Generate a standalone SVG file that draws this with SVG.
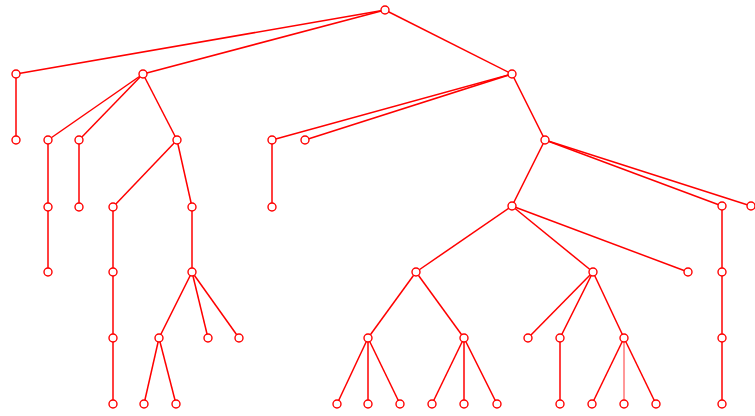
<svg xmlns="http://www.w3.org/2000/svg" width="755" height="416" viewBox="0 0 755 416">
<style>
.e line{stroke:#ff0000;stroke-width:1.5;fill:none}
.n circle{fill:#ffffff;stroke:#ff0000;stroke-width:1.4}
</style>
<rect width="755" height="416" fill="#ffffff"/>
<g id="connectors" class="e">
<line x1="385" y1="10" x2="16" y2="74"/>
<line x1="385" y1="10" x2="143" y2="74"/>
<line x1="385" y1="10" x2="512" y2="74"/>
<line x1="16" y1="74" x2="16" y2="140"/>
<line x1="143" y1="74" x2="48" y2="140"/>
<line x1="143" y1="74" x2="79" y2="140"/>
<line x1="143" y1="74" x2="177" y2="140"/>
<line x1="512" y1="74" x2="272" y2="140"/>
<line x1="512" y1="74" x2="305" y2="140"/>
<line x1="512" y1="74" x2="545" y2="140"/>
<line x1="48" y1="140" x2="48" y2="207"/>
<line x1="79" y1="140" x2="79" y2="207"/>
<line x1="177" y1="140" x2="113" y2="207"/>
<line x1="177" y1="140" x2="192" y2="207"/>
<line x1="272" y1="140" x2="272" y2="207"/>
<line x1="545" y1="140" x2="512" y2="206"/>
<line x1="545" y1="140" x2="722" y2="206"/>
<line x1="545" y1="140" x2="751" y2="206"/>
<line x1="48" y1="207" x2="48" y2="272"/>
<line x1="113" y1="207" x2="113" y2="272"/>
<line x1="192" y1="207" x2="192" y2="272"/>
<line x1="512" y1="206" x2="416" y2="272"/>
<line x1="512" y1="206" x2="593" y2="272"/>
<line x1="512" y1="206" x2="688" y2="272"/>
<line x1="722" y1="206" x2="722" y2="272"/>
<line x1="113" y1="272" x2="113" y2="338"/>
<line x1="192" y1="272" x2="159" y2="338"/>
<line x1="192" y1="272" x2="208" y2="338"/>
<line x1="192" y1="272" x2="239" y2="338"/>
<line x1="416" y1="272" x2="368" y2="338"/>
<line x1="416" y1="272" x2="464" y2="338"/>
<line x1="593" y1="272" x2="528" y2="338"/>
<line x1="593" y1="272" x2="560" y2="338"/>
<line x1="593" y1="272" x2="624" y2="338"/>
<line x1="722" y1="272" x2="722" y2="338"/>
<line x1="113" y1="338" x2="113" y2="404"/>
<line x1="159" y1="338" x2="144" y2="404"/>
<line x1="159" y1="338" x2="176" y2="404"/>
<line x1="368" y1="338" x2="337" y2="404"/>
<line x1="368" y1="338" x2="368" y2="404"/>
<line x1="368" y1="338" x2="400" y2="404"/>
<line x1="464" y1="338" x2="432" y2="404"/>
<line x1="464" y1="338" x2="464" y2="404"/>
<line x1="464" y1="338" x2="497" y2="404"/>
<line x1="560" y1="338" x2="560" y2="404"/>
<line x1="624" y1="338" x2="592" y2="404"/>
<line x1="624" y1="338" x2="624" y2="404" style="stroke-width:0.8"/>
<line x1="624" y1="338" x2="656" y2="404"/>
<line x1="722" y1="338" x2="722" y2="404"/>
</g>
<g class="n">
<g id="n0"><circle cx="385" cy="10" r="4"/></g>
<g id="n1"><circle cx="16" cy="74" r="4"/></g>
<g id="n2"><circle cx="143" cy="74" r="4"/></g>
<g id="n3"><circle cx="512" cy="74" r="4"/></g>
<g id="n4"><circle cx="16" cy="140" r="4"/></g>
<g id="n5"><circle cx="48" cy="140" r="4"/></g>
<g id="n6"><circle cx="79" cy="140" r="4"/></g>
<g id="n7"><circle cx="177" cy="140" r="4"/></g>
<g id="n8"><circle cx="272" cy="140" r="4"/></g>
<g id="n9"><circle cx="305" cy="140" r="4"/></g>
<g id="n10"><circle cx="545" cy="140" r="4"/></g>
<g id="n11"><circle cx="48" cy="207" r="4"/></g>
<g id="n12"><circle cx="79" cy="207" r="4"/></g>
<g id="n13"><circle cx="113" cy="207" r="4"/></g>
<g id="n14"><circle cx="192" cy="207" r="4"/></g>
<g id="n15"><circle cx="272" cy="207" r="4"/></g>
<g id="n16"><circle cx="512" cy="206" r="4"/></g>
<g id="n17"><circle cx="722" cy="206" r="4"/></g>
<g id="n18"><circle cx="751" cy="206" r="4"/></g>
<g id="n19"><circle cx="48" cy="272" r="4"/></g>
<g id="n20"><circle cx="113" cy="272" r="4"/></g>
<g id="n21"><circle cx="192" cy="272" r="4"/></g>
<g id="n22"><circle cx="416" cy="272" r="4"/></g>
<g id="n23"><circle cx="593" cy="272" r="4"/></g>
<g id="n24"><circle cx="688" cy="272" r="4"/></g>
<g id="n25"><circle cx="722" cy="272" r="4"/></g>
<g id="n26"><circle cx="113" cy="338" r="4"/></g>
<g id="n27"><circle cx="159" cy="338" r="4"/></g>
<g id="n28"><circle cx="208" cy="338" r="4"/></g>
<g id="n29"><circle cx="239" cy="338" r="4"/></g>
<g id="n30"><circle cx="368" cy="338" r="4"/></g>
<g id="n31"><circle cx="464" cy="338" r="4"/></g>
<g id="n32"><circle cx="528" cy="338" r="4"/></g>
<g id="n33"><circle cx="560" cy="338" r="4"/></g>
<g id="n34"><circle cx="624" cy="338" r="4"/></g>
<g id="n35"><circle cx="722" cy="338" r="4"/></g>
<g id="n36"><circle cx="113" cy="404" r="4"/></g>
<g id="n37"><circle cx="144" cy="404" r="4"/></g>
<g id="n38"><circle cx="176" cy="404" r="4"/></g>
<g id="n39"><circle cx="337" cy="404" r="4"/></g>
<g id="n40"><circle cx="368" cy="404" r="4"/></g>
<g id="n41"><circle cx="400" cy="404" r="4"/></g>
<g id="n42"><circle cx="432" cy="404" r="4"/></g>
<g id="n43"><circle cx="464" cy="404" r="4"/></g>
<g id="n44"><circle cx="497" cy="404" r="4"/></g>
<g id="n45"><circle cx="560" cy="404" r="4"/></g>
<g id="n46"><circle cx="592" cy="404" r="4"/></g>
<g id="n47"><circle cx="624" cy="404" r="4"/></g>
<g id="n48"><circle cx="656" cy="404" r="4"/></g>
<g id="n49"><circle cx="722" cy="404" r="4"/></g>
</g>
</svg>
